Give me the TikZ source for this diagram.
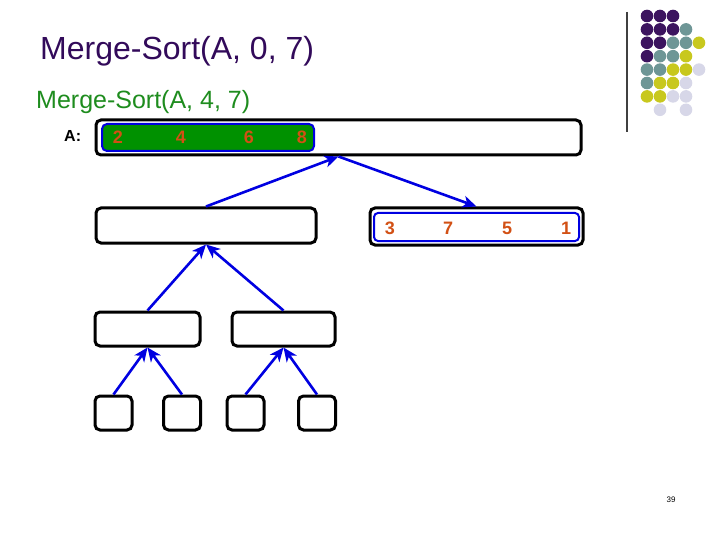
\documentclass[tikz,border=0pt]{standalone}
\usepackage{fontspec}
\setmainfont{Liberation Sans}
\definecolor{titlepurple}{RGB}{50, 10, 90}
\definecolor{callgreen}{RGB}{30, 140, 30}
\definecolor{fillgreen}{RGB}{0, 145, 0}
\definecolor{arrowblue}{RGB}{0, 0, 225}
\definecolor{numorange}{RGB}{210, 80, 20}
\definecolor{dotP}{RGB}{60, 20, 95}
\definecolor{dotT}{RGB}{110, 150, 150}
\definecolor{dotY}{RGB}{200, 200, 30}
\definecolor{dotL}{RGB}{215, 215, 232}
\usetikzlibrary{arrows.meta, positioning}
\tikzset{
	slot/.style={rectangle, rounded corners=5pt, draw=black, line width=3pt, fill=white, inner sep=0pt},
	sorted/.style={rectangle, rounded corners=5pt, draw=arrowblue, line width=2pt, fill=fillgreen, inner sep=0pt},
	unsorted/.style={rectangle, rounded corners=4pt, draw=arrowblue, line width=2pt, fill=white, inner sep=0pt},
	num/.style={anchor=base, inner sep=0pt, text=numorange, font=\fontsize{18}{20}\selectfont\bfseries},
	arrow/.style={-{Stealth[length=14pt, width=12pt, inset=4pt]}, line width=2.6pt, draw=arrowblue},
}

\begin{document}
\begin{tikzpicture}[x=1pt, y=-1pt]
		\useasboundingbox (0,0) rectangle (720,540);
		\node[anchor=base west, inner sep=0pt, text=titlepurple, font=\fontsize{32}{36}\selectfont] (title) at (40,60) {Merge-Sort(A, 0, 7)};
		\node[anchor=base west, inner sep=0pt, text=callgreen, font=\fontsize{25}{28}\selectfont] (call) at (36,109) {Merge-Sort(A, 4, 7)};
		\node[anchor=base west, inner sep=0pt, font=\fontsize{16}{18}\selectfont\bfseries] (alabel) at (64,142) {A:};
		\node[slot, minimum width=485pt, minimum height=35pt] (top) at (338.5,137.5) {};
		\node[sorted, minimum width=212pt, minimum height=27pt] (topsorted) at (208,137.5) {};
		\node[slot, minimum width=220pt, minimum height=35pt] (left) at (206,225.5) {};
		\node[slot, minimum width=213pt, minimum height=37pt] (right) at (476.5,226.5) {};
		\node[unsorted, minimum width=205pt, minimum height=28pt] (rightvals) at (476.5,227) {};
		\node[slot, minimum width=105pt, minimum height=34pt] (ll) at (147.5,329) {};
		\node[slot, minimum width=103pt, minimum height=34pt] (lr) at (283.5,329) {};
		\node[slot, minimum width=37pt, minimum height=34pt] (lll) at (113.5,413) {};
		\node[slot, minimum width=37pt, minimum height=34pt] (llr) at (182,413) {};
		\node[slot, minimum width=37pt, minimum height=34pt] (lrl) at (245.5,413) {};
		\node[slot, minimum width=37pt, minimum height=34pt] (lrr) at (317,413) {};
		\foreach \v/\x in {2/118,4/181,6/249,8/302}{\node[num] (a\v) at (\x,144) {\v};}
		\foreach \v/\x in {3/390,7/448,5/507,1/566}{\node[num] (b\v) at (\x,234) {\v};}
		\draw[arrow] (left.north) -- (top.south);
		\draw[arrow] (top.south) -- (right.north);
		\foreach \x in {ll,lr}{\draw[arrow] (\x.north) -- (left.south);}
		\foreach \x in {lll,llr}{\draw[arrow] (\x.north) -- (ll.south);}
		\foreach \x in {lrl,lrr}{\draw[arrow] (\x.north) -- (lr.south);}
		\draw[line width=1.3pt, draw=black!75] (627,12) -- (627,132);
		\foreach \r/\c/\col in {1/1/dotP,1/2/dotP,1/3/dotP,2/1/dotP,2/2/dotP,2/3/dotP,2/4/dotT,3/1/dotP,3/2/dotP,3/3/dotT,3/4/dotT,3/5/dotY,4/1/dotP,4/2/dotT,4/3/dotT,4/4/dotY,5/1/dotT,5/2/dotT,5/3/dotY,5/4/dotY,5/5/dotL,6/1/dotT,6/2/dotY,6/3/dotY,6/4/dotL,7/1/dotY,7/2/dotY,7/3/dotL,7/4/dotL,8/2/dotL,8/4/dotL}{\fill[\col] ({634+13*\c},{2.6+13.4*\r}) circle (6.3pt);}
		\node[inner sep=0pt, font=\fontsize{8}{9}\selectfont] (page) at (671,500) {39};
	\end{tikzpicture}
\end{document}
